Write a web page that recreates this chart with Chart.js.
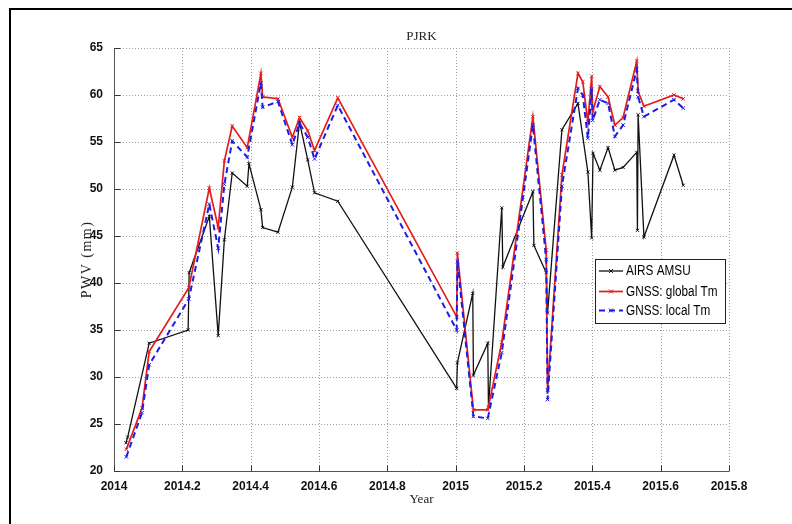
<!DOCTYPE html>
<html>
<head>
<meta charset="utf-8">
<script src="https://cdn.jsdelivr.net/npm/chart.js@4.4.1/dist/chart.umd.min.js"></script>
<style>
  html, body { margin: 0; padding: 0; background: #fff; }
  #wrap { position: relative; width: 792px; height: 524px; overflow: hidden; }
  #border { position: absolute; left: 9px; top: 8px; width: 800px; height: 600px;
            border-left: 2px solid #000; border-top: 2px solid #000; pointer-events: none; }
  canvas { position: absolute; left: 0; top: 0; }
</style>
</head>
<body>
<div id="wrap">
  <canvas id="c" width="792" height="524"></canvas>
  <div id="border"></div>
</div>
<script>
// ---- data ----
const airsYears = [2014.035, 2014.040, 2014.103, 2014.217, 2014.220, 2014.279, 2014.305, 2014.323, 2014.346, 2014.390,
  2014.395, 2014.430, 2014.435, 2014.480, 2014.522, 2014.543, 2014.567, 2014.587, 2014.655, 2015.003,
  2015.005, 2015.050, 2015.052, 2015.094, 2015.096, 2015.135, 2015.138, 2015.226, 2015.229, 2015.265,
  2015.269, 2015.311, 2015.358, 2015.387, 2015.398, 2015.402, 2015.422, 2015.446, 2015.466, 2015.490,
  2015.530, 2015.532, 2015.534, 2015.551, 2015.639, 2015.666];
const airsPWV = [23.0, 23.6, 33.6, 35.0, 41.1, 47.1, 34.4, 44.6, 51.7, 50.3,
  52.7, 47.8, 45.9, 45.4, 50.2, 57.1, 53.1, 49.6, 48.7, 28.8,
  31.5, 38.9, 30.2, 33.6, 26.8, 48.0, 41.7, 49.7, 44.0, 41.1,
  36.8, 56.3, 59.1, 51.8, 44.8, 53.8, 52.0, 54.4, 52.0, 52.3,
  53.9, 45.6, 57.9, 44.9, 53.6, 50.4];

const gnssYears = [2014.036, 2014.082, 2014.103, 2014.219, 2014.279, 2014.305, 2014.323, 2014.346, 2014.390, 2014.430,
  2014.435, 2014.480, 2014.522, 2014.543, 2014.567, 2014.587, 2014.655, 2015.003, 2015.005, 2015.052,
  2015.094, 2015.135, 2015.226, 2015.265, 2015.269, 2015.311, 2015.358, 2015.372, 2015.387, 2015.398,
  2015.401, 2015.422, 2015.446, 2015.466, 2015.490, 2015.530, 2015.534, 2015.551, 2015.639, 2015.666];
const globalTm = [22.3, 26.7, 32.7, 39.5, 50.1, 45.9, 53.0, 56.7, 54.4, 62.3,
  59.8, 59.6, 55.5, 57.6, 56.2, 54.1, 59.7, 36.4, 43.2, 26.5,
  26.5, 33.7, 57.7, 43.5, 28.6, 51.5, 62.3, 61.4, 57.1, 62.0,
  58.2, 60.9, 59.8, 56.8, 57.6, 63.6, 60.4, 58.8, 60.0, 59.6];
const localTm = [21.5, 26.2, 31.3, 38.3, 48.4, 43.7, 50.5, 55.1, 53.4, 61.3,
  58.7, 59.3, 54.7, 57.0, 55.5, 53.2, 58.9, 35.0, 42.3, 25.8,
  25.6, 32.6, 56.8, 42.5, 27.6, 50.3, 60.7, 60.0, 55.4, 60.6,
  57.3, 59.5, 59.1, 55.6, 56.8, 62.7, 59.8, 57.7, 59.5, 58.6];

const xTickValues = [2014, 2014.2, 2014.4, 2014.6, 2014.8, 2015, 2015.2, 2015.4, 2015.6, 2015.8];
const xTickLabels = ['2014', '2014.2', '2014.4', '2014.6', '2014.8', '2015', '2015.2', '2015.4', '2015.6', '2015.8'];
const yTickValues = [20, 25, 30, 35, 40, 45, 50, 55, 60, 65];
const seriesNames = ['AIRS AMSU', 'GNSS: global Tm', 'GNSS: local Tm'];
const chartTitle = 'PJRK';
const xTitle = 'Year';
const yTitle = 'PWV (mm)';

const pts = (xs, ys) => xs.map((x, i) => ({ x: x, y: ys[i] }));

const BLACK = '#111111', RED = 'rgb(228,28,28)', BLUE = 'rgb(28,28,228)';
const SANS = '"Liberation Sans", Arial, sans-serif';
const SERIF = '"Liberation Serif", "DejaVu Serif", serif';

const gridPlugin = {
  id: 'gridPlugin',
  beforeDatasetsDraw(chart) {
    const { ctx, chartArea: a, scales: { x, y } } = chart;
    ctx.save();
    ctx.strokeStyle = '#a0a0a0';
    ctx.lineWidth = 1;
    ctx.setLineDash([1, 2]);
    xTickValues.forEach((v, i) => {
      if (i === 0) return;
      const px = Math.round(x.getPixelForValue(v)) + 0.5;
      ctx.beginPath(); ctx.moveTo(px, a.top); ctx.lineTo(px, a.bottom); ctx.stroke();
    });
    yTickValues.forEach((v, i) => {
      if (i === 0) return;
      const py = Math.round(y.getPixelForValue(v)) + 0.5;
      ctx.beginPath(); ctx.moveTo(a.left, py); ctx.lineTo(a.right, py); ctx.stroke();
    });
    ctx.setLineDash([]);
    ctx.strokeStyle = '#555';
    const L = Math.round(a.left) + 0.5, B = Math.round(a.bottom) + 0.5;
    ctx.beginPath(); ctx.moveTo(L, a.top); ctx.lineTo(L, B); ctx.lineTo(a.right, B); ctx.stroke();
    ctx.strokeStyle = '#333';
    xTickValues.forEach(v => {
      const px = Math.round(x.getPixelForValue(v)) + 0.5;
      ctx.beginPath(); ctx.moveTo(px, B); ctx.lineTo(px, B - 6); ctx.stroke();
    });
    yTickValues.forEach(v => {
      const py = Math.round(y.getPixelForValue(v)) + 0.5;
      ctx.beginPath(); ctx.moveTo(L, py); ctx.lineTo(L + 6, py); ctx.stroke();
    });
    ctx.restore();
  },
  afterDraw(chart) {
    const { ctx, chartArea: a } = chart;
    ctx.save();
    ctx.fillStyle = '#222';
    ctx.textAlign = 'center';
    ctx.textBaseline = 'middle';
    ctx.font = '13px ' + SERIF;
    ctx.fillText(chartTitle, (a.left + a.right) / 2, 37);
    ctx.fillText(xTitle, (a.left + a.right) / 2, 500);
    ctx.save();
    ctx.translate(87, (a.top + a.bottom) / 2);
    ctx.rotate(-Math.PI / 2);
    ctx.font = '14px ' + SERIF;
    ctx.letterSpacing = '1.5px';
    ctx.fillText(yTitle, 0, 0);
    ctx.restore();

    // legend box
    const bx = 595.5, by = 259.5, bw = 130, bh = 64;
    ctx.fillStyle = '#fff';
    ctx.fillRect(bx, by, bw, bh);
    ctx.strokeStyle = '#222';
    ctx.lineWidth = 1;
    ctx.strokeRect(bx, by, bw, bh);
    const rows = [271, 291.5, 310.5];
    chart.data.datasets.forEach((ds, i) => {
      const yy = rows[i];
      ctx.save();
      ctx.strokeStyle = ds.borderColor;
      ctx.lineWidth = ds.borderWidth;
      ctx.setLineDash(ds.borderDash || []);
      ctx.beginPath(); ctx.moveTo(599, yy); ctx.lineTo(623, yy); ctx.stroke();
      ctx.setLineDash([]);
      ctx.lineWidth = 1;
      ctx.beginPath();
      ctx.moveTo(609, yy - 2); ctx.lineTo(613, yy + 2);
      ctx.moveTo(609, yy + 2); ctx.lineTo(613, yy - 2);
      ctx.stroke();
      ctx.restore();
      ctx.save();
      ctx.fillStyle = '#000';
      ctx.textAlign = 'left';
      ctx.textBaseline = 'middle';
      ctx.font = '14px ' + SANS;
      ctx.translate(626, yy + 0.5);
      ctx.scale(0.84, 1);
      ctx.fillText(ds.label, 0, 0);
      ctx.restore();
    });
    ctx.restore();
  }
};

new Chart(document.getElementById('c'), {
  type: 'line',
  data: {
    datasets: [
      { label: seriesNames[0], data: pts(airsYears, airsPWV), borderColor: BLACK, backgroundColor: BLACK,
        borderWidth: 1.3, pointStyle: 'crossRot', pointRadius: 2.2, pointBorderWidth: 1, tension: 0, order: 3 },
      { label: seriesNames[1], data: pts(gnssYears, globalTm), borderColor: RED, backgroundColor: RED,
        borderWidth: 1.7, pointStyle: 'crossRot', pointRadius: 2.5, pointBorderWidth: 1, tension: 0, order: 2 },
      { label: seriesNames[2], data: pts(gnssYears, localTm), borderColor: BLUE, backgroundColor: BLUE,
        borderWidth: 2, borderDash: [6, 4], pointStyle: 'crossRot', pointRadius: 2.5, pointBorderWidth: 1, tension: 0, order: 1 }
    ]
  },
  options: {
    responsive: false,
    animation: false,
    events: [],
    layout: { padding: { left: 0, top: 48, right: 63, bottom: 0 } },
    plugins: { legend: { display: false }, title: { display: false }, tooltip: { enabled: false } },
    scales: {
      x: {
        type: 'linear', min: 2014, max: 2015.8,
        grid: { display: false }, border: { display: false },
        afterBuildTicks: s => { s.ticks = xTickValues.map(v => ({ value: v })); },
        afterFit: s => { s.height = 53; },
        ticks: { autoSkip: false, maxRotation: 0, padding: 0, color: '#111',
          font: { family: SANS, size: 12, weight: 'bold' },
          callback: (v, i) => xTickLabels[i] }
      },
      y: {
        type: 'linear', min: 20, max: 65,
        grid: { display: false }, border: { display: false },
        afterBuildTicks: s => { s.ticks = yTickValues.map(v => ({ value: v })); },
        afterFit: s => { s.width = 114; },
        ticks: { autoSkip: false, padding: 3, color: '#111',
          font: { family: SANS, size: 12, weight: 'bold' },
          callback: v => String(v) }
      }
    }
  },
  plugins: [gridPlugin]
});
</script>
</body>
</html>
